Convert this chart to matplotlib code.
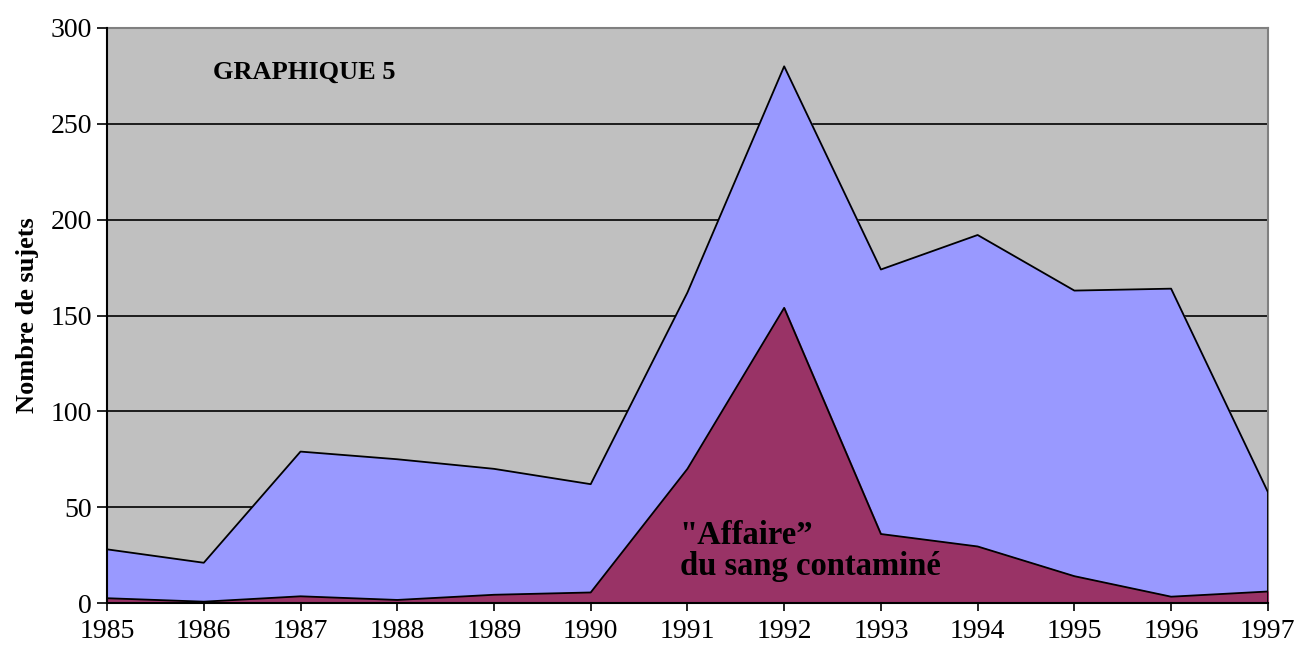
import matplotlib
matplotlib.use("Agg")
import matplotlib.pyplot as plt

# annees et nombre de sujets
ANNEES = [1985, 1986, 1987, 1988, 1989, 1990, 1991, 1992, 1993, 1994, 1995, 1996, 1997]
TOTAL = [28, 21, 79, 75, 70, 62, 162, 280, 174, 192, 163, 164, 58]
SANG = [2.5, 0.7, 3.5, 1.6, 4.3, 5.5, 70, 154, 36, 29.5, 14, 3.3, 6]

COR_FOND = "#C0C0C0"
COR_TOTAL = "#9999FF"
COR_SANG = "#993366"

plt.rcParams["font.family"] = ["Liberation Serif", "DejaVu Serif"]

fig = plt.figure(figsize=(12.99, 6.45), dpi=100)
ax = fig.add_axes([0.0824, 0.0651, 0.8936, 0.8915])
ax.set_facecolor(COR_FOND)

ax.fill_between(ANNEES, 0, TOTAL, color=COR_TOTAL, zorder=2)
ax.plot(ANNEES, TOTAL, color="black", lw=1.3, zorder=3)
ax.fill_between(ANNEES, 0, SANG, color=COR_SANG, zorder=4)
ax.plot(ANNEES, SANG, color="black", lw=1.3, zorder=5)
ax.plot([ANNEES[-1], ANNEES[-1]], [0, TOTAL[-1]], color="black", lw=1.3, zorder=5)

ax.set_xlim(1985, 1997)
ax.set_ylim(0, 300)
ax.set_xticks(ANNEES)
ax.set_xticklabels([str(a) for a in ANNEES], fontsize=20)
ax.set_yticks(range(0, 301, 50))
ax.tick_params(axis="y", labelsize=20, length=7, width=1.2, pad=4)
ax.tick_params(axis="x", length=6, width=1.2, pad=5.5)
ax.yaxis.grid(True, color="black", lw=1.2, zorder=1)
ax.set_axisbelow(True)

for s in ("left", "bottom"):
    ax.spines[s].set_color("black")
    ax.spines[s].set_linewidth(1.5)
    ax.spines[s].set_zorder(6)
for s in ("top", "right"):
    ax.spines[s].set_color("#808080")
    ax.spines[s].set_linewidth(1.5)

ax.set_ylabel("Nombre de sujets", fontsize=19, fontweight="bold", labelpad=8)

ax.text(1987.04, 277, "GRAPHIQUE 5", fontsize=19, fontweight="bold",
        ha="center", va="center", zorder=7)
ax.text(1990.92, 27, "\"Affaire\u201d\ndu sang contaminé", fontsize=23.5,
        fontweight="bold", ha="left", va="center", linespacing=1.0, zorder=7)

fig.savefig("out.png", dpi=100)
